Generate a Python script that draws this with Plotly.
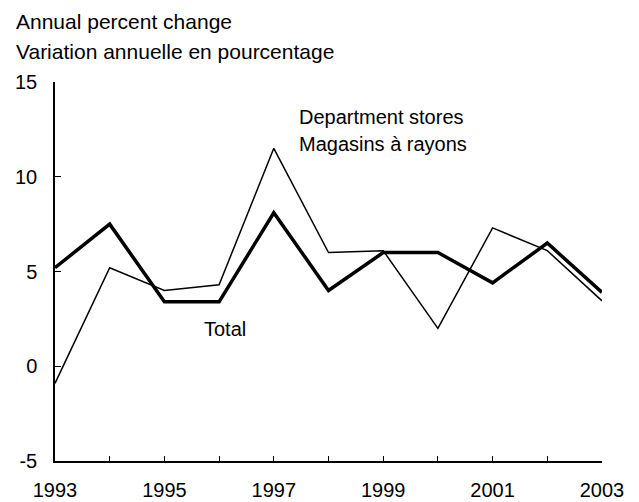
import plotly.graph_objects as go

years = [1993, 1994, 1995, 1996, 1997, 1998, 1999, 2000, 2001, 2002, 2003]
total = [5.2, 7.5, 3.4, 3.4, 8.1, 4.0, 6.0, 6.0, 4.4, 6.5, 3.9]
department_stores = [-0.9, 5.2, 4.0, 4.3, 11.5, 6.0, 6.1, 2.0, 7.3, 6.1, 3.45]
x_tick_labels = ["1993", "", "1995", "", "1997", "", "1999", "", "2001", "", "2003"]
y_ticks = [-5, 0, 5, 10, 15]
y_tick_labels = ["-5", "0", "5", "10", "15"]

FONT = "Liberation Sans, Arial, Helvetica, sans-serif"

fig = go.Figure()
fig.add_trace(go.Scatter(x=years, y=department_stores, mode="lines",
                         line=dict(color="black", width=1.5), name="Department stores"))
fig.add_trace(go.Scatter(x=years, y=total, mode="lines",
                         line=dict(color="black", width=3.5), name="Total"))

# page body has an 8px margin; figure offset by it
OFF = 8
W, H = 639 - OFF, 502 - OFF
# target plot area in screen pixels: left 55, right 602, top 82, bottom 461
ml = 55 - OFF
mt = 82 - OFF
mr = W - (602 - OFF)
mb = H - (461 - OFF)
ph = H - mt - mb
pw = W - ml - mr

def py(sy):
    return (H - mb - (sy - OFF)) / ph

def px(sx):
    return ((sx - OFF) - ml) / pw

annotations = [
    dict(text="Annual percent change", x=px(14), y=py(21), xref="paper", yref="paper",
         xanchor="left", yanchor="middle", showarrow=False, font=dict(size=21)),
    dict(text="Variation annuelle en pourcentage", x=px(14), y=py(51), xref="paper", yref="paper",
         xanchor="left", yanchor="middle", showarrow=False, font=dict(size=21)),
    dict(text="Department stores", x=1997.42, y=13.15, xref="x", yref="y",
         xanchor="left", yanchor="middle", showarrow=False),
    dict(text="Magasins à rayons", x=1997.42, y=11.75, xref="x", yref="y",
         xanchor="left", yanchor="middle", showarrow=False),
    dict(text="Total", x=1995.68, y=1.95, xref="x", yref="y",
         xanchor="left", yanchor="middle", showarrow=False),
]

fig.update_layout(
    width=W, height=H,
    margin=dict(l=ml, r=mr, t=mt, b=mb, autoexpand=False),
    paper_bgcolor="white", plot_bgcolor="white",
    showlegend=False,
    font=dict(family=FONT, size=20, color="black"),
    annotations=annotations,
    xaxis=dict(range=[1993, 2003], tickvals=years, ticktext=x_tick_labels,
               showline=True, linecolor="black", linewidth=1.5,
               ticks="inside", ticklen=5, tickwidth=1.2, tickcolor="black",
               showgrid=False, zeroline=False, tickfont=dict(size=20),
               ticklabelstandoff=10, automargin=False),
    yaxis=dict(range=[-5, 15], tickvals=y_ticks, ticktext=y_tick_labels,
               showline=True, linecolor="black", linewidth=1.5,
               ticks="inside", ticklen=6, tickwidth=1.2, tickcolor="black",
               showgrid=False, zeroline=False, tickfont=dict(size=20),
               ticklabelstandoff=12, automargin=False),
)

fig.write_html("out.html")
